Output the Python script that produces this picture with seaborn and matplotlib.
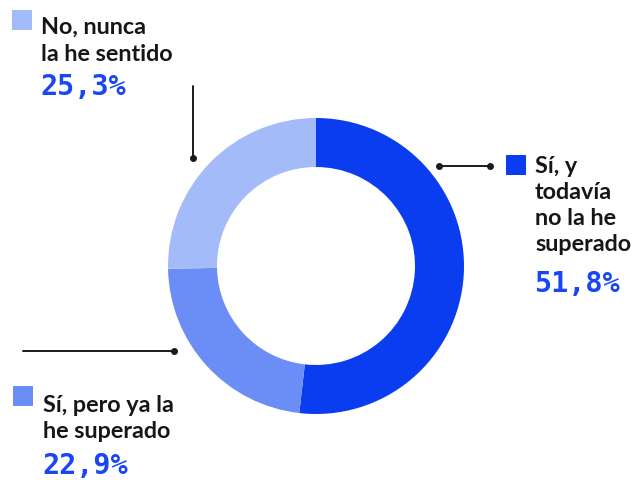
import matplotlib
matplotlib.use("Agg")
import matplotlib.pyplot as plt
import seaborn as sns

categories = ["Sí, y todavía no la he superado", "Sí, pero ya la he superado", "No, nunca la he sentido"]
values = [51.8, 22.9, 25.3]
pct_labels = ["51,8%", "22,9%", "25,3%"]
label_lines = [
    ["Sí, y", "todavía", "no la he", "superado"],
    ["Sí, pero ya la", "he superado"],
    ["No, nunca", "la he sentido"],
]
colors = ["#0a3cf0", "#6b8ef6", "#a3bbf8"]

sns.set_theme(style="white")
plt.rcParams["font.family"] = ["Lato", "DejaVu Sans"]

H = 480
fig = plt.figure(figsize=(6.37, 4.8), dpi=100)
ax = fig.add_axes([0, 0, 1, 1])

ax.pie(values, colors=colors, startangle=90, counterclock=False,
       center=(316, H - 266), radius=148, frame=True,
       wedgeprops=dict(width=49, linewidth=0))
ax.set_xlim(0, 637)
ax.set_ylim(0, H)
ax.set_aspect("equal")
ax.axis("off")

line_kw = dict(color="#1a1a1a", linewidth=1.4)
dot_kw = dict(color="#1a1a1a", marker="o", markersize=4, linestyle="none")

# leaders
ax.plot([193, 193], [H - 86, H - 158], **line_kw)
ax.plot([193], [H - 158], **dot_kw)
ax.plot([439, 490], [H - 166, H - 166], **line_kw)
ax.plot([439, 490], [H - 166, H - 166], **dot_kw)
ax.plot([23, 174], [H - 351, H - 351], **line_kw)
ax.plot([174], [H - 351], **dot_kw)

# label blocks: (square x, square top, text x, first baseline, line step, pct baseline)
blocks = [
    (506, 155, 535, 173, 26, 292),
    (13, 386, 43, 412, 26, 474),
    (12, 10, 41, 34, 27, 95),
]
for i, (sx, sy, tx, by, step, py) in enumerate(blocks):
    ax.add_patch(plt.Rectangle((sx, H - sy - 20), 20, 20, color=colors[i], lw=0))
    for j, ln in enumerate(label_lines[i]):
        ax.text(tx, H - (by + j * step), ln, fontsize=16.8, fontweight="bold",
                color="#161616", va="baseline", ha="left")
    ax.text(tx - 1, H - py, pct_labels[i], fontsize=20.5, fontweight="bold",
            family="DejaVu Sans Mono", color="#1946f5", va="baseline", ha="left")

fig.savefig("out.png", dpi=100, facecolor="white")
